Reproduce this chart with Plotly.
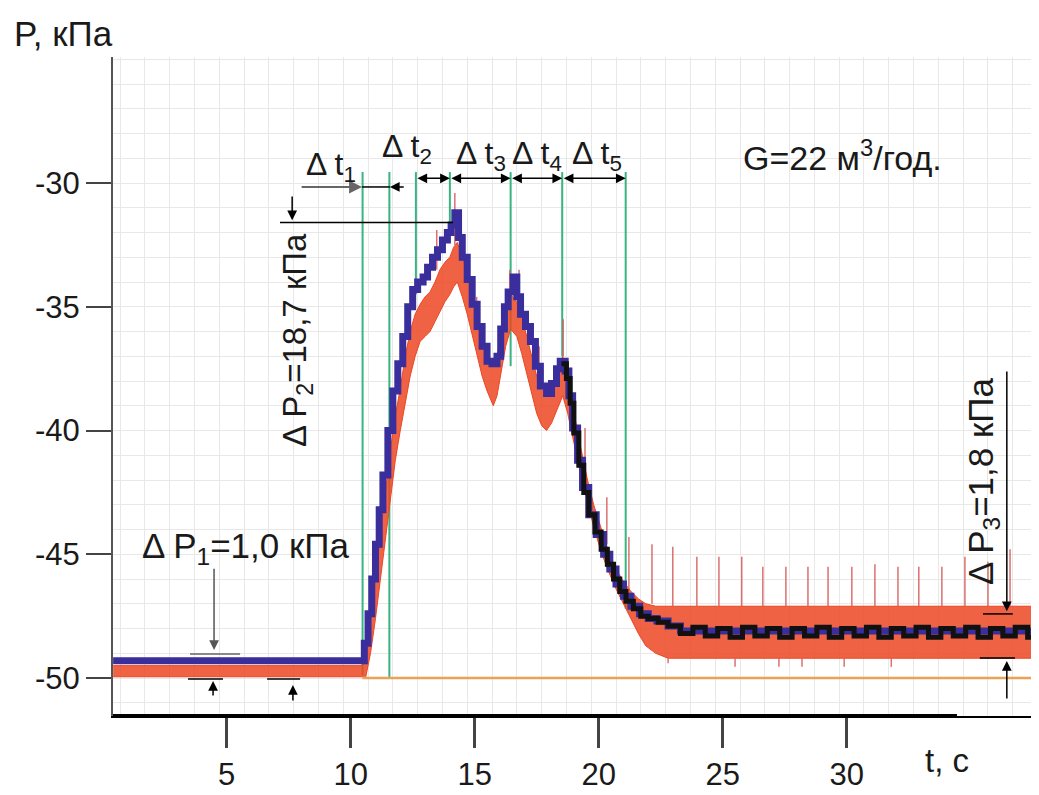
import plotly.graph_objects as go

# ---------------- data ----------------
# blue trace
t_blue = [0.42, 10.45, 10.55, 10.7, 10.85, 11.0, 11.15, 11.3, 11.5, 11.7, 11.9, 12.1, 12.3, 12.5,
          12.7, 12.92, 13.1, 13.3, 13.5, 13.7, 13.9, 14.05, 14.2, 14.35, 14.5, 14.7, 14.9, 15.1,
          15.3, 15.5, 15.7, 15.9, 16.05, 16.2, 16.35, 16.55, 16.7, 16.85, 17.05, 17.25, 17.45,
          17.65, 17.9, 18.1, 18.3, 18.45, 18.65, 18.8, 18.95, 19.15, 19.35, 19.6, 19.9, 20.2,
          20.45, 20.7, 21.0, 21.3, 21.65, 22.0, 22.35, 22.8, 23.3, 38.1]
p_blue = [-49.3, -49.3, -48.6, -47.4, -46.0, -44.6, -43.2, -41.8, -40.0, -38.4, -37.3, -36.2,
          -35.0, -34.3, -34.0, -33.8, -33.4, -33.0, -32.7, -32.3, -32.0, -31.7, -31.2, -32.2,
          -33.0, -33.9, -34.9, -35.8, -36.6, -37.2, -37.3, -37.0, -35.9, -35.0, -34.4, -33.8,
          -34.6, -35.3, -35.8, -36.4, -37.4, -38.2, -38.5, -38.1, -37.5, -37.2, -37.6, -38.6,
          -39.9, -41.2, -42.3, -43.4, -44.2, -45.0, -45.6, -46.2, -46.7, -47.1, -47.4, -47.6,
          -47.7, -47.9, -48.1, -48.1]

# red trace (noisy band: upper / lower envelope)
t_red = [0.42, 10.45, 10.6, 10.8, 11.0, 11.2, 11.4, 11.6, 11.8, 12.0, 12.2, 12.4, 12.6, 12.8,
         13.0, 13.2, 13.4, 13.6, 13.8, 14.0, 14.15, 14.3, 14.5, 14.7, 14.9, 15.1, 15.3, 15.5,
         15.75, 15.9, 16.05, 16.25, 16.45, 16.7, 16.9, 17.1, 17.3, 17.5, 17.7, 17.9, 18.1, 18.3,
         18.55, 18.75, 18.9, 19.1, 19.3, 19.55, 19.8, 20.1, 20.4, 20.7, 21.0, 21.3, 21.6, 21.9,
         22.3, 22.8, 38.1]
p_red_hi = [-49.5, -49.5, -49.0, -47.6, -45.9, -44.2, -42.4, -40.8, -39.4, -38.3, -37.0, -36.0,
            -35.3, -34.9, -34.6, -34.4, -34.0, -33.5, -33.2, -33.0, -32.6, -32.4, -33.0, -33.6,
            -34.4, -35.3, -36.1, -36.8, -37.4, -37.0, -36.2, -35.2, -34.5, -34.8, -35.4, -36.2,
            -37.0, -37.8, -38.3, -38.6, -38.3, -37.7, -37.0, -37.7, -38.6, -39.8, -40.8, -42.0,
            -43.0, -44.0, -44.9, -45.6, -46.1, -46.5, -46.8, -47.0, -47.1, -47.1, -47.1]
p_red_lo = [-49.95, -49.95, -50.0, -49.0, -47.6, -46.0, -44.2, -42.6, -41.2, -40.0, -38.9, -37.8,
            -37.0, -36.4, -36.2, -36.0, -35.6, -35.2, -34.8, -34.5, -34.2, -34.0, -34.6, -35.3,
            -36.1, -37.0, -37.8, -38.4, -39.0, -38.6, -37.8, -36.6, -35.9, -36.2, -36.9, -37.7,
            -38.5, -39.3, -39.8, -40.0, -39.7, -39.2, -38.6, -39.3, -40.0, -41.0, -41.9, -42.9,
            -43.9, -44.9, -45.7, -46.4, -47.0, -47.6, -48.2, -48.7, -49.0, -49.2, -49.2]

# red spikes (time, tip, base)
spike_t = [13.47, 14.2, 15.08, 16.42, 16.79, 17.6, 18.57, 19.45, 20.33, 21.22, 22.15, 22.99,
           23.96, 24.85, 25.77, 26.62, 27.55, 28.44, 29.25, 30.21, 31.14, 32.07, 32.91, 33.84,
           34.77, 35.7, 36.59, 37.5, 22.8, 25.5, 27.27, 28.2, 29.9, 31.8]
spike_tip = [-31.9, -30.4, -34.6, -33.5, -33.5, -36.6, -35.5, -39.9, -42.7, -44.3, -44.6, -44.7,
             -45.1, -45.1, -45.1, -45.5, -45.5, -45.5, -45.5, -45.5, -45.4, -45.5, -45.5, -45.5,
             -45.1, -45.3, -44.8, -45.6, -49.4, -49.55, -49.55, -49.55, -49.55, -49.55]
spike_base = [-33.5, -32.5, -35.3, -34.5, -35.0, -38.0, -37.0, -41.5, -44.6, -46.4, -47.0, -47.1,
              -47.1, -47.1, -47.1, -47.1, -47.1, -47.1, -47.1, -47.1, -47.1, -47.1, -47.1, -47.1,
              -47.1, -47.1, -47.1, -47.1, -49.2, -49.2, -49.2, -49.2, -49.2, -49.2]

# black trace
t_black = [18.5, 18.7, 18.85, 19.0, 19.2, 19.4, 19.6, 19.85, 20.1, 20.35, 20.6, 20.85, 21.1,
           21.4, 21.7, 22.0, 22.4, 22.8, 23.3, 23.8, 24.3, 24.8, 25.3, 25.8, 26.3, 26.8, 27.3,
           27.8, 28.3, 28.8, 29.3, 29.8, 30.3, 30.8, 31.3, 31.8, 32.3, 32.8, 33.3, 33.8, 34.3,
           34.8, 35.3, 35.8, 36.3, 36.8, 37.3, 37.8, 38.1]
p_black = [-37.3, -37.9, -38.9, -40.1, -41.4, -42.5, -43.4, -44.1, -44.8, -45.4, -46.0, -46.5,
           -46.9, -47.2, -47.5, -47.6, -47.75, -47.9, -48.2, -47.95, -48.3, -48.0, -48.35, -47.95,
           -48.3, -48.0, -48.35, -48.0, -48.3, -47.95, -48.35, -48.0, -48.3, -47.95, -48.35, -48.0,
           -48.3, -47.95, -48.35, -48.0, -48.3, -47.95, -48.35, -48.0, -48.3, -47.95, -48.35,
           -48.0, -48.0]

# interval markers (green) and base level (orange)
green_t = [10.48, 11.56, 12.63, 14.0, 16.45, 18.53, 21.09]
green_top = -29.56
green_bottom = [-49.9, -50.0, -34.5, -32.0, -37.4, -37.0, -47.2]
base_t = [10.48, 38.1]
base_p = [-50.0, -50.0]

x_ticks = [5, 10, 15, 20, 25, 30]
y_ticks = [-30, -35, -40, -45, -50]
y_ticktext = ["-30", "-35", "-40", "-45", "-50"]

# ---------------- styling ----------------
FONT = "Liberation Sans, Arial, sans-serif"
BLUE = "#3a2d9c"
RED = "rgb(236,70,34)"
REDFILL = "rgba(236,70,34,0.85)"
BLACK = "#111111"
GREEN = "#38b481"
ORANGE = "#e9a355"
SPIKE = "rgba(214,96,96,0.9)"

fig = go.Figure()

gx, gy = [], []
for t, b in zip(green_t, green_bottom):
    gx += [t, t, None]
    gy += [green_top, b, None]
fig.add_trace(go.Scatter(x=gx, y=gy, mode="lines", line=dict(color=GREEN, width=2),
                         hoverinfo="skip", showlegend=False))

fig.add_trace(go.Scatter(x=t_red, y=p_red_lo, mode="lines", line=dict(color=RED, width=1),
                         showlegend=False))
fig.add_trace(go.Scatter(x=t_red, y=p_red_hi, mode="lines", line=dict(color=RED, width=1),
                         fill="tonexty", fillcolor=REDFILL, showlegend=False))

sx, sy = [], []
for t, a, b in zip(spike_t, spike_tip, spike_base):
    sx += [t, t, None]
    sy += [b, a, None]
fig.add_trace(go.Scatter(x=sx, y=sy, mode="lines", line=dict(color=SPIKE, width=1.5),
                         showlegend=False))

fig.add_trace(go.Scatter(x=base_t, y=base_p, mode="lines", line=dict(color=ORANGE, width=2.5),
                         showlegend=False))

fig.add_trace(go.Scatter(x=t_blue, y=p_blue, mode="lines", line=dict(color=BLUE, width=7, shape="hv"),
                         showlegend=False))
fig.add_trace(go.Scatter(x=t_black, y=p_black, mode="lines", line=dict(color=BLACK, width=5, shape="hv"),
                         showlegend=False))

# ---------------- annotation lines ----------------
shapes = []
def seg(x0, y0, x1, y1, color="black", width=1.5, yref="y"):
    shapes.append(dict(type="line", xref="x", yref=yref, x0=x0, y0=y0, x1=x1, y1=y1,
                       line=dict(color=color, width=width), layer="above"))

seg(0.415, 0, 34.45, 0, width=4, yref="paper")   # heavy part of the time axis
seg(7.15, -31.6, 14.13, -31.6)               # dP2 level line
seg(10.46, -30.16, 11.58, -30.16)            # dt1 span
seg(3.44, -50.04, 4.85, -50.04)              # dP1 lower marks
seg(6.63, -50.04, 7.96, -50.04)
seg(3.52, -49.03, 5.54, -49.03, color="#666")
seg(35.5, -47.41, 36.7, -47.41)              # dP3 marks
seg(35.37, -49.19, 36.79, -49.19)

annotations = []
def arrow(x_tail, y_tail, x_head, y_head, color="black", both=False, width=1.5):
    annotations.append(dict(x=x_head, y=y_head, ax=x_tail, ay=y_tail, xref="x", yref="y",
                            axref="x", ayref="y", text="", showarrow=True, arrowhead=2,
                            arrowsize=1.3, arrowwidth=width, arrowcolor=color,
                            arrowside="end+start" if both else "end"))

arrow(7.96, -30.16, 10.46, -30.16, color="#666", width=2)     # dt1 right arrow
arrow(12.2, -30.16, 11.58, -30.16)                             # dt1 left arrow
for a, b in zip(green_t[2:-1], green_t[3:]):
    arrow(a, -29.81, b, -29.81, both=True)                     # dt2..dt5
arrow(7.64, -30.48, 7.64, -31.5)                               # dP2 down arrow
arrow(4.49, -45.52, 4.49, -48.87, color="#555")                # dP1 down arrow
arrow(4.45, -50.77, 4.45, -50.12)                              # dP1 up arrows
arrow(7.67, -50.97, 7.67, -50.28)
arrow(36.46, -37.56, 36.46, -47.3)                             # dP3 down arrow
arrow(36.46, -50.89, 36.46, -49.31)                            # dP3 up arrow

def label(x, y, text, size=31, angle=0, xref="x", yref="y", xanchor="center"):
    annotations.append(dict(x=x, y=y, xref=xref, yref=yref, text=text, showarrow=False,
                            textangle=angle, xanchor=xanchor, yanchor="middle",
                            font=dict(family=FONT, size=size, color="#1a1a1a")))

label(9.22, -29.35, "Δ t<sub>1</sub>", size=32)
label(12.27, -28.59, "Δ t<sub>2</sub>", size=32)
label(15.26, -28.87, "Δ t<sub>3</sub>", size=32)
label(17.51, -28.87, "Δ t<sub>4</sub>", size=32)
label(19.93, -28.87, "Δ t<sub>5</sub>", size=32)
label(29.85, -28.87, "G=22 м<sup>3</sup>/год.", size=34)
label(7.84, -36.34, "Δ P<sub>2</sub>=18,7 кПа", size=33, angle=-90)
label(5.74, -44.75, "Δ P<sub>1</sub>=1,0 кПа", size=35)
label(35.5, -42.08, "Δ P<sub>3</sub>=1,8 кПа", size=35, angle=-90)
label(-0.1081, 1.036, "P, кПа", size=35, xref="paper", yref="paper", xanchor="left")
label(0.893, -0.0668, "t, c", size=33, xref="paper", yref="paper")

# the page places the figure 8 px from the top-left corner, so the figure is
# sized/margined to put the plotting area where the reference has it
fig.update_layout(
    width=1039, height=787,
    margin=dict(l=105, r=0, t=49, b=79, autoexpand=False),
    paper_bgcolor="white", plot_bgcolor="white",
    showlegend=False,
    font=dict(family=FONT, size=31, color="#1a1a1a"),
    shapes=shapes, annotations=annotations,
    xaxis=dict(range=[0.415, 38.08], tickvals=x_ticks, ticktext=[str(v) for v in x_ticks],
               ticks="outside", ticklen=30, tickwidth=2.5, tickcolor="#444",
               showline=True, linecolor="black", linewidth=2, automargin=False,
               showgrid=False, zeroline=False, ticklabelstandoff=0,
               tickfont=dict(family=FONT, size=31, color="#1a1a1a"),
               minor=dict(tick0=0.7, dtick=1, showgrid=True, gridcolor="#e8e8e8",
                          gridwidth=1, ticks="")),
    yaxis=dict(range=[-51.535, -24.909], tickvals=y_ticks, ticktext=y_ticktext,
               ticks="outside", ticklen=25, tickwidth=2, tickcolor="#444",
               showline=True, linecolor="#555", linewidth=2, automargin=False,
               showgrid=True, gridcolor="#e8e8e8", gridwidth=1, zeroline=False,
               tickfont=dict(family=FONT, size=31, color="#1a1a1a"),
               minor=dict(dtick=1, showgrid=True, gridcolor="#e8e8e8", gridwidth=1, ticks="")),
)

fig.write_html("out.html")
